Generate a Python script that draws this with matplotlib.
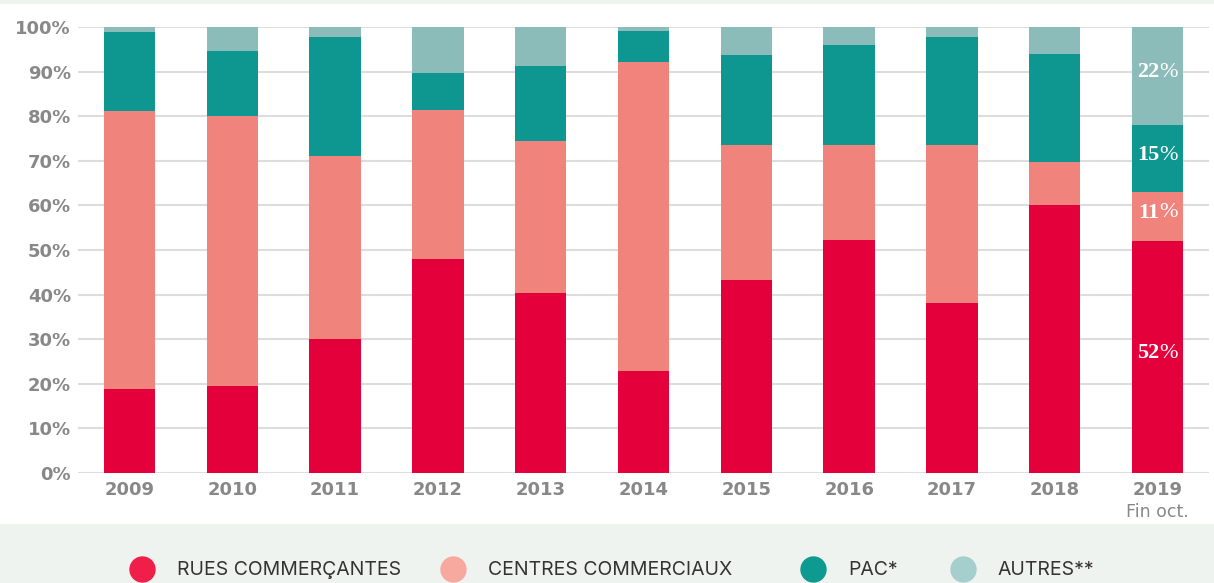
import matplotlib.pyplot as plt
from matplotlib.patches import Rectangle
from matplotlib.lines import Line2D
import numpy as np

years = ['2009', '2010', '2011', '2012', '2013', '2014', '2015', '2016', '2017', '2018', '2019']
rues = [18.8, 19.6, 30.0, 48.0, 40.4, 22.9, 43.3, 52.2, 38.1, 60.1, 52]
centres = [62.4, 60.5, 41.1, 33.4, 34.0, 69.3, 30.2, 21.3, 35.4, 9.7, 11]
pac = [17.7, 14.6, 26.7, 8.3, 16.9, 6.9, 20.2, 22.5, 24.3, 24.1, 15]
autres = [1.1, 5.3, 2.2, 10.3, 8.7, 0.9, 6.3, 4.0, 2.2, 6.1, 22]

series = [
    ('RUES COMMERÇANTES', rues, '#e4003a', '#f01f4a'),
    ('CENTRES COMMERCIAUX', centres, '#f0837c', '#f8a99f'),
    ('PAC*', pac, '#0e9690', '#0e9a91'),
    ('AUTRES**', autres, '#8cbcb9', '#a5cfcc'),
]

fig = plt.figure(figsize=(12.14, 5.83), dpi=100)
fig.patches.append(Rectangle((0, 0), 1, 59 / 583, transform=fig.transFigure,
                             color='#eff3f0', zorder=0))
fig.patches.append(Rectangle((0, 580 / 583), 1, 3 / 583, transform=fig.transFigure,
                             color='#eff3f0', zorder=0))

ax = fig.add_axes([78 / 1214, 110 / 583, 1131 / 1214, 446 / 583])
x = np.arange(len(years))
bottom = np.zeros(len(years))
for name, vals, col, _ in series:
    ax.bar(x, vals, 0.5, bottom=bottom, color=col, zorder=3)
    bottom += np.array(vals)

# labels on the last bar
bottom = 0
for name, vals, col, _ in series:
    v = vals[-1]
    ax.text(10.02, bottom + v / 2 + 0.8, f'{v:.0f}', ha='right', va='center', color='white',
            fontsize=16, fontweight='bold', family='Liberation Serif', zorder=4)
    ax.text(10.02, bottom + v / 2 + 0.8, '%', ha='left', va='center', color='white',
            fontsize=16, family='Liberation Serif', zorder=4)
    bottom += v

ax.set_xlim(-0.5, 10.5)
ax.set_ylim(0, 100)
ax.set_yticks(range(0, 101, 10))
ax.set_yticklabels([f'{v}%' for v in range(0, 101, 10)])
ax.set_xticks(x)
ax.set_xticklabels(years)
ax.grid(axis='y', color='#dddddd', linewidth=1.5, zorder=1)
for s in ax.spines.values():
    s.set_visible(False)
ax.tick_params(length=0, colors='#888888', labelsize=13)
ax.tick_params(axis='y', pad=5)
ax.tick_params(axis='x', pad=6)
for lab in ax.get_xticklabels() + ax.get_yticklabels():
    lab.set_fontweight('bold')
ax.text(10, -0.087, 'Fin oct.', transform=ax.get_xaxis_transform(), ha='center',
        va='center', color='#888888', fontsize=12.5)

# legend at the bottom
leg_x = [142, 453, 813, 963]
for (name, vals, col, lcol), lx in zip(series, leg_x):
    fig.add_artist(Line2D([lx / 1214], [14 / 583], marker='o', markersize=18,
                          color=lcol, transform=fig.transFigure))
    fig.text((lx + 35) / 1214, 13 / 583, name, ha='left', va='center',
             fontsize=14, color='#333333', family='Inter')

fig.savefig('out.png', dpi=100)
